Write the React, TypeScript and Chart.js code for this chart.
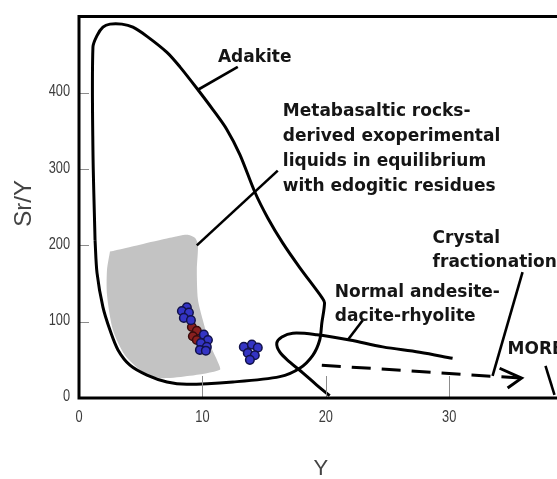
import { useEffect, useRef } from "react";
import { Chart, registerables } from "chart.js";

Chart.register(...registerables);

// Axis ranges and tick values
const X_MAX = 45;
const Y_MAX = 500;
const xTicks = [0, 10, 20, 30, 40];
const yTicks = [0, 100, 200, 300, 400];

// Adakite field boundary (Y vs Sr/Y), clockwise from the left edge
const adakiteY = [1.3, 1.13, 1.13, 1.46, 1.94, 2.51, 3.48, 4.37, 5.51, 7.13, 8.18, 9.64, 10.85, 11.98, 13.04, 14.25, 15.3, 16.52, 17.89, 19.68, 19.9, 19.68, 19.51, 18.95, 17.89, 16.28, 12.47, 8.74, 7.13, 5.51, 4.13, 3.16, 2.51, 1.94, 1.46, 1.3];
const adakiteSrY = [207, 325, 460, 475, 486, 490, 490, 486, 474, 453, 434, 404, 378, 352, 319, 270, 236, 203, 171, 132, 125, 98, 76, 56, 39, 28, 21, 18, 21, 30, 43, 63, 89, 119, 164, 207];

// Experimental metabasalt-derived liquids (shaded field)
const meltY = [2.51, 4.94, 7.37, 8.74, 9.39, 9.64, 9.55, 9.64, 10.04, 10.61, 11.26, 11.42, 8.99, 6.56, 5.18, 3.72, 2.75, 2.27, 2.27, 2.51];
const meltSrY = [192, 201, 210, 214, 210, 201, 168, 129, 102, 70, 47, 37, 29, 26, 34, 56, 89, 135, 168, 192];

// Normal andesite-dacite-rhyolite field boundary
const normalY = [30.28, 27.61, 24.62, 21.94, 19.27, 17.33, 16.44, 16.03, 16.28, 17.09, 18.14, 19.27, 20.32];
const normalSrY = [52, 60, 67, 76, 83, 85, 80, 72, 60, 47, 33, 17, 3];

// Crystal fractionation trend and its arrowhead
const trendY = [19.68, 35.87];
const trendSrY = [43, 26];
const arrowY = [34.09, 35.87, 34.74];
const arrowSrY = [39, 26, 13];

// Samples
const blueY = [8.74, 8.34, 8.91, 8.5, 9.07, 10.12, 10.45, 9.88, 10.36, 9.8, 10.28, 13.36, 14.01, 14.49, 13.68, 14.25, 13.85];
const blueSrY = [119, 114, 112, 105, 102, 83, 76, 72, 67, 63, 62, 67, 70, 66, 59, 56, 50];
const redY = [9.15, 9.55, 9.23, 9.55];
const redSrY = [93, 88, 81, 76];

// Label leader lines
const leaderY = [[12.87, 9.64], [16.11, 9.55], [23.0, 21.78], [35.95, 33.52], [37.81, 38.54]];
const leaderSrY = [[434, 404], [298, 200], [102, 76], [165, 29], [42, 4]];

// Field labels, anchored at the left end of the first baseline
const labelLines = [
  ["Adakite"],
  ["Metabasaltic rocks-", "derived exoperimental", "liquids in equilibrium", "with edogitic residues"],
  ["Crystal", "fractionation"],
  ["Normal andesite-", "dacite-rhyolite"],
  ["MORB"],
];
const labelY = [11.26, 16.52, 28.66, 20.73, 34.74];
const labelSrY = [440, 370, 203, 132, 58];
const labelLeading = [24, 25, 24, 24, 24];

const pts = (xs: number[], ys: number[]) => xs.map((x, i) => ({ x, y: ys[i] }));

const frameAxes = {
  id: "frameAxes",
  afterDatasetsDraw(chart: any) {
    const { ctx, chartArea: a, scales } = chart;
    const xs = scales.x;
    const ys = scales.y;
    ctx.save();

    // inward tick marks
    ctx.strokeStyle = "#8c8c8c";
    ctx.lineWidth = 1;
    yTicks.forEach((v) => {
      if (v === 0) return;
      const py = Math.round(ys.getPixelForValue(v)) + 0.5;
      ctx.beginPath();
      ctx.moveTo(a.left, py);
      ctx.lineTo(a.left + 10, py);
      ctx.stroke();
    });
    xTicks.forEach((v) => {
      if (v === 0) return;
      const px = Math.round(xs.getPixelForValue(v)) + 0.5;
      ctx.beginPath();
      ctx.moveTo(px, a.bottom);
      ctx.lineTo(px, a.bottom - 22);
      ctx.stroke();
    });

    // plot frame
    ctx.strokeStyle = "#000";
    ctx.lineWidth = 3;
    ctx.strokeRect(a.left, a.top, a.right - a.left, a.bottom - a.top);

    // tick labels (condensed)
    ctx.fillStyle = "#3c3c3c";
    ctx.font = '16px "Liberation Sans", Arial, sans-serif';
    ctx.textBaseline = "middle";
    const narrow = (s: string, x: number, y: number, align: string) => {
      ctx.save();
      ctx.translate(x, y);
      ctx.scale(0.8, 1);
      ctx.textAlign = align;
      ctx.fillText(s, 0, 0);
      ctx.restore();
    };
    yTicks.forEach((v) => narrow(String(v), a.left - 9, ys.getPixelForValue(v) - 1, "right"));
    xTicks.forEach((v) => narrow(String(v), xs.getPixelForValue(v), a.bottom + 20, "center"));

    // axis titles
    ctx.fillStyle = "#444";
    ctx.textAlign = "center";
    ctx.font = '22px "Liberation Sans", Arial, sans-serif';
    ctx.fillText("Y", xs.getPixelForValue(19.6), 469);
    ctx.save();
    ctx.translate(24, ys.getPixelForValue(255));
    ctx.rotate(-Math.PI / 2);
    ctx.font = '24px "Liberation Sans", Arial, sans-serif';
    ctx.fillText("Sr/Y", 0, 0);
    ctx.restore();

    // field labels
    ctx.fillStyle = "#151515";
    ctx.textAlign = "left";
    ctx.textBaseline = "alphabetic";
    ctx.font = 'bold 17px "DejaVu Sans", sans-serif';
    labelLines.forEach((lines, i) => {
      const x = xs.getPixelForValue(labelY[i]);
      const y0 = ys.getPixelForValue(labelSrY[i]);
      lines.forEach((t, j) => ctx.fillText(t, x, y0 + j * labelLeading[i]));
    });

    ctx.restore();
  },
};

export default function App() {
  const ref = useRef<HTMLCanvasElement | null>(null);

  useEffect(() => {
    if (!ref.current) return;
    const line = (xs: number[], ys: number[], extra: any = {}) => ({
      type: "scatter",
      data: pts(xs, ys),
      showLine: true,
      borderColor: "#000",
      borderWidth: 3,
      pointRadius: 0,
      fill: false,
      ...extra,
    });

    const datasets: any[] = [
      {
        type: "scatter",
        label: "samples",
        data: pts(blueY, blueSrY),
        pointRadius: 4.3,
        pointBackgroundColor: "#3434c4",
        pointBorderColor: "#12124a",
        pointBorderWidth: 1.5,
        order: 0,
      },
      {
        type: "scatter",
        label: "samples (red)",
        data: pts(redY, redSrY),
        pointRadius: 4.3,
        pointBackgroundColor: "#8a2020",
        pointBorderColor: "#3a0c0c",
        pointBorderWidth: 1.5,
        order: 1,
      },
      line(adakiteY, adakiteSrY, { tension: 0.3, order: 2 }),
      line(normalY, normalSrY, { tension: 0.35, order: 3 }),
      line(trendY, trendSrY, { borderDash: [19, 11], order: 4 }),
      line(arrowY, arrowSrY, { order: 5 }),
      ...leaderY.map((ly, i) => line(ly, leaderSrY[i], { borderWidth: 2.6, order: 6 + i })),
      line(meltY, meltSrY, {
        tension: 0.25,
        borderWidth: 0,
        borderColor: "rgba(0,0,0,0)",
        backgroundColor: "#c3c3c3",
        fill: "shape",
        order: 20,
      }),
    ];

    const chart = new Chart(ref.current, {
      type: "scatter",
      data: { datasets },
      options: {
        responsive: false,
        animation: false,
        devicePixelRatio: 1,
        layout: { padding: { left: 79, top: 16.5, right: 640 - 79 - X_MAX * 12.35, bottom: 479 - 398 } },
        scales: {
          x: { type: "linear", min: 0, max: X_MAX, display: false },
          y: { type: "linear", min: 0, max: Y_MAX, display: false },
        },
        plugins: { legend: { display: false }, tooltip: { enabled: false } },
      },
      plugins: [frameAxes],
    } as any);
    return () => chart.destroy();
  }, []);

  return (
    <div style={{ position: "fixed", left: 0, top: 0, width: 557, height: 479, overflow: "hidden", background: "#fff" }}>
      <canvas ref={ref} width={640} height={479} style={{ display: "block" }} />
    </div>
  );
}
